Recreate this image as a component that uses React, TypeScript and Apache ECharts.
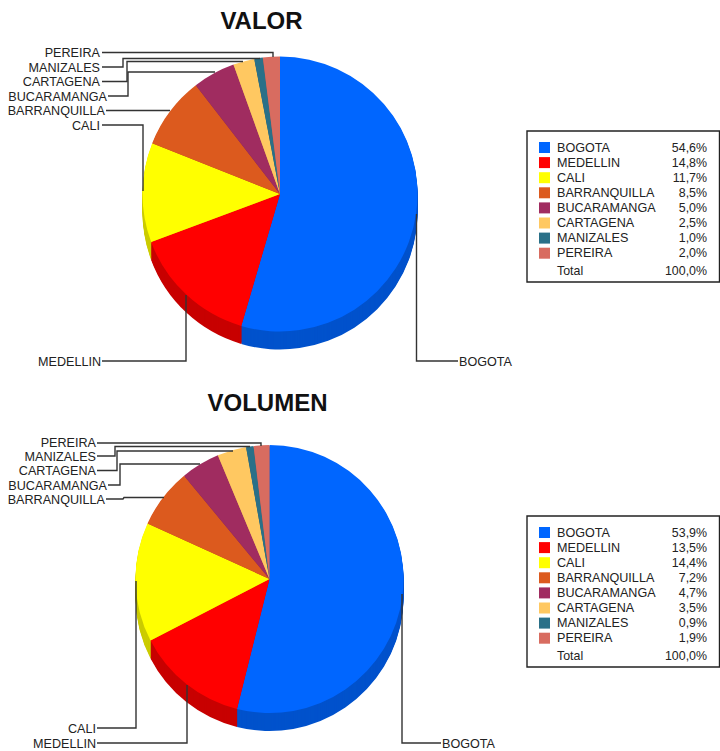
import React, { useEffect, useRef } from "react";
import * as echarts from "echarts";

const categories = ["BOGOTA", "MEDELLIN", "CALI", "BARRANQUILLA", "BUCARAMANGA", "CARTAGENA", "MANIZALES", "PEREIRA"];
const valorValues = [54.6, 14.8, 11.7, 8.5, 5.0, 2.5, 1.0, 2.0];
const volumenValues = [53.9, 13.5, 14.4, 7.2, 4.7, 3.5, 0.9, 1.9];
const sliceColors = ["#0066FF", "#FF0000", "#FFFF00", "#DC5A1E", "#A02C60", "#FFC861", "#2A7088", "#D86C60"];
const sideColors = ["#0052CC", "#C80000", "#CCCC00", "#B04818", "#80234D", "#CCA04E", "#225A6D", "#AD564D"];
const totalLabel = "Total";
const totalValue = "100,0%";

const FONT = "'Liberation Sans', Arial, sans-serif";
const DEPTH = 18;
const INK = "#222";

const pct = (v: number) => v.toFixed(1).replace(".", ",") + "%";

function pieStack(name: string, values: number[], cx: number, cy: number, r: number) {
  const out: any[] = [];
  for (let d = 0; d <= DEPTH; d++) {
    out.push({
      type: "pie",
      name: name + (d === 0 ? "" : " lado " + d),
      center: [cx, cy + d],
      radius: [0, r],
      startAngle: 90,
      clockwise: true,
      z: 30 - d,
      silent: true,
      avoidLabelOverlap: false,
      label: { show: false },
      labelLine: { show: false },
      emphasis: { disabled: true },
      itemStyle: { borderWidth: 0 },
      data: categories.map((c, i) => ({
        name: c,
        value: values[i],
        itemStyle: { color: d === 0 ? sliceColors[i] : sideColors[i] },
      })),
    });
  }
  return out;
}

function legendFor(values: number[], top: number) {
  return {
    orient: "vertical" as const,
    left: 539,
    top,
    padding: 0,
    icon: "rect",
    itemWidth: 11,
    itemHeight: 11,
    itemGap: 2.1,
    selectedMode: false,
    data: categories,
    formatter: (n: string) => `{n|${n}}{v|${pct(values[categories.indexOf(n)])}}`,
    textStyle: {
      rich: {
        n: { width: 115, padding: [0, 0, 0, 2], fontFamily: FONT, fontSize: 12.6, color: INK, lineHeight: 11 },
        v: { width: 35, align: "right", fontFamily: FONT, fontSize: 12.4, color: INK, lineHeight: 11 },
      },
    },
  };
}

function callout(name: string, textX: number, textAlign: string, y: number, points: number[][]) {
  return [
    {
      type: "text",
      z: 50,
      style: { text: name, x: textX, y: y + 0.8, align: textAlign, verticalAlign: "middle", font: `12.6px ${FONT}`, fill: INK },
    },
    {
      type: "polyline",
      z: 50,
      shape: { points },
      style: { stroke: "#333", lineWidth: 1.4, fill: "none" },
    },
  ];
}

function legendBox(y: number, h: number, totalY: number) {
  return [
    { type: "rect", z: 1, shape: { x: 527, y, width: 192.5, height: h }, style: { fill: "#fff", stroke: "#222", lineWidth: 1.4 } },
    { type: "text", z: 50, style: { text: totalLabel, x: 557, y: totalY, align: "left", verticalAlign: "middle", font: `12.4px ${FONT}`, fill: INK } },
    { type: "text", z: 50, style: { text: totalValue, x: 707, y: totalY, align: "right", verticalAlign: "middle", font: `12.4px ${FONT}`, fill: INK } },
  ];
}

const [BOG, MED, CAL, BAQ, BUC, CTG, MAN, PER] = categories;

export default function App() {
  const ref = useRef<HTMLDivElement>(null);
  useEffect(() => {
    const chart = echarts.init(ref.current!, undefined, { renderer: "svg" });
    chart.setOption({
      animation: false,
      backgroundColor: "#fff",
      title: [
        { text: "VALOR", left: 256.5, top: 3, textAlign: "center", textStyle: { fontFamily: FONT, fontSize: 24, fontWeight: "bold", color: "#111" } },
        { text: "VOLUMEN", left: 262.5, top: 385, textAlign: "center", textStyle: { fontFamily: FONT, fontSize: 24, fontWeight: "bold", color: "#111" } },
      ],
      legend: [legendFor(valorValues, 141), legendFor(volumenValues, 526)],
      series: [...pieStack("VALOR", valorValues, 280, 194, 137.5), ...pieStack("VOLUMEN", volumenValues, 269.5, 579, 134)],
      graphic: [
        ...legendBox(131, 151, 270.5),
        ...legendBox(516, 151, 655.5),
        ...callout(PER, 100, "right", 52, [[102, 52.5], [273, 52.5], [273, 57]]),
        ...callout(MAN, 100, "right", 67, [[102, 67], [123, 67], [123, 58.5], [260, 58.5]]),
        ...callout(CTG, 100, "right", 81, [[102, 81.5], [127, 81.5], [127, 61.5], [243, 61.5]]),
        ...callout(BUC, 107, "right", 96, [[108, 96], [128, 96], [128, 72], [215, 72]]),
        ...callout(BAQ, 105, "right", 110, [[106, 110.5], [170, 110.5]]),
        ...callout(CAL, 100, "right", 125, [[102, 125], [143, 125], [143, 191]]),
        ...callout(MED, 101, "right", 361, [[102, 361], [186, 361], [186, 295]]),
        ...callout(BOG, 459, "left", 361, [[416.5, 214], [416.5, 361], [458, 361]]),
        ...callout(PER, 96, "right", 442, [[97, 443], [261, 443], [261, 446]]),
        ...callout(MAN, 96, "right", 456, [[97, 456], [115, 456], [115, 446.5], [250, 446.5]]),
        ...callout(CTG, 96, "right", 470, [[97, 470.5], [117, 470.5], [117, 451], [233, 451]]),
        ...callout(BUC, 107, "right", 485, [[108, 485], [120, 485], [120, 464], [200, 464]]),
        ...callout(BAQ, 105, "right", 499, [[106, 499], [123, 499], [124, 497.5], [164, 497.5]]),
        ...callout(CAL, 96, "right", 728, [[97, 728], [136, 728], [136, 581]]),
        ...callout(MED, 96, "right", 743, [[97, 743], [187, 743], [187, 685]]),
        ...callout(BOG, 442, "left", 743, [[402, 594], [402, 743], [441, 743]]),
      ],
    });
    return () => chart.dispose();
  }, []);
  return <div ref={ref} style={{ position: "absolute", left: 0, top: 0, width: 720, height: 751 }} />;
}
